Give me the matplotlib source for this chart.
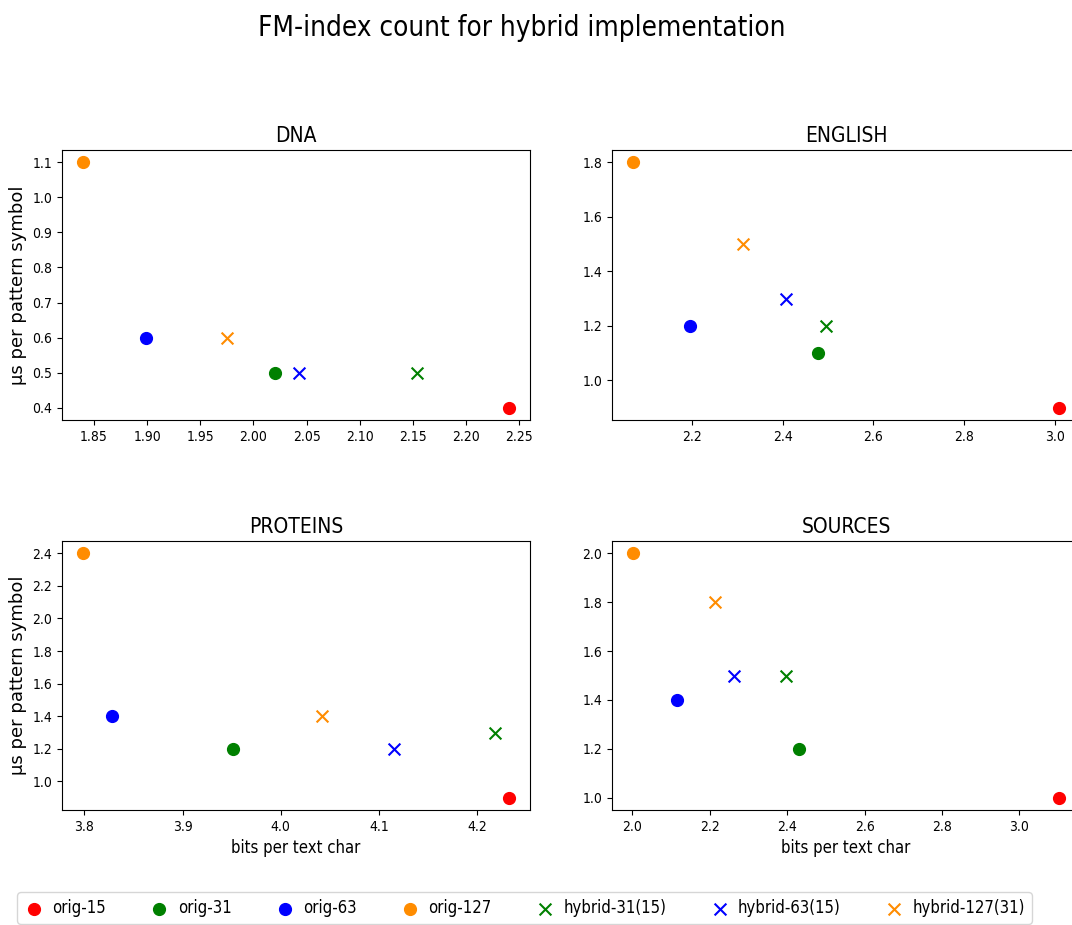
import matplotlib
matplotlib.use("Agg")
import matplotlib.pyplot as plt

plt.rcParams['font.family'] = ['DejaVu Sans']
plt.rcParams['font.stretch'] = 'condensed'

labels = ["orig-15", "orig-31", "orig-63", "orig-127",
          "hybrid-31(15)", "hybrid-63(15)", "hybrid-127(31)"]
colors = ["red", "green", "blue", "darkorange", "green", "blue", "darkorange"]
markers = ["o", "o", "o", "o", "x", "x", "x"]

datasets = ["DNA", "ENGLISH", "PROTEINS", "SOURCES"]

# bits per text char, same order as labels
dna_x = [2.240, 2.020, 1.899, 1.840, 2.154, 2.043, 1.975]
dna_y = [0.4, 0.5, 0.6, 1.1, 0.5, 0.5, 0.6]

english_x = [3.009, 2.477, 2.195, 2.070, 2.496, 2.407, 2.312]
english_y = [0.9, 1.1, 1.2, 1.8, 1.2, 1.3, 1.5]

proteins_x = [4.232, 3.951, 3.828, 3.799, 4.218, 4.1155, 4.042]
proteins_y = [0.9, 1.2, 1.4, 2.4, 1.3, 1.2, 1.4]

sources_x = [3.102, 2.430, 2.116, 2.002, 2.398, 2.262, 2.214]
sources_y = [1.0, 1.2, 1.4, 2.0, 1.5, 1.5, 1.8]

xs = [dna_x, english_x, proteins_x, sources_x]
ys = [dna_y, english_y, proteins_y, sources_y]

fig = plt.figure(figsize=(10.72, 9.25), dpi=100)
fig.suptitle("FM-index count for hybrid implementation", fontsize=20,
             x=0.487, y=0.985)

W = 1072.0
H = 925.0
boxes = [
    (62, 150, 530, 420),
    (612, 150, 1080, 420),
    (62, 541, 530, 810),
    (612, 541, 1080, 810),
]

for i in range(4):
    l, t, r, b = boxes[i]
    ax = fig.add_axes([l / W, 1 - b / H, (r - l) / W, (b - t) / H])
    for j in range(len(labels)):
        ax.scatter(xs[i][j], ys[i][j], s=72, c=colors[j], marker=markers[j],
                   label=labels[j])
    ax.set_title(datasets[i], fontsize=15)
    if i % 2 == 0:
        ax.set_ylabel("\u03bcs per pattern symbol", fontsize=13,
                      fontstretch="normal")
    if i >= 2:
        ax.set_xlabel("bits per text char", fontsize=12)
    if i == 0:
        handles, lbls = ax.get_legend_handles_labels()

fig.legend(handles, lbls, loc="lower left", ncol=7, fontsize=12,
           bbox_to_anchor=(9 / W, -7 / H), columnspacing=2.6,
           handlelength=1.2, handletextpad=0.5)

fig.savefig("out.png", dpi=100)
